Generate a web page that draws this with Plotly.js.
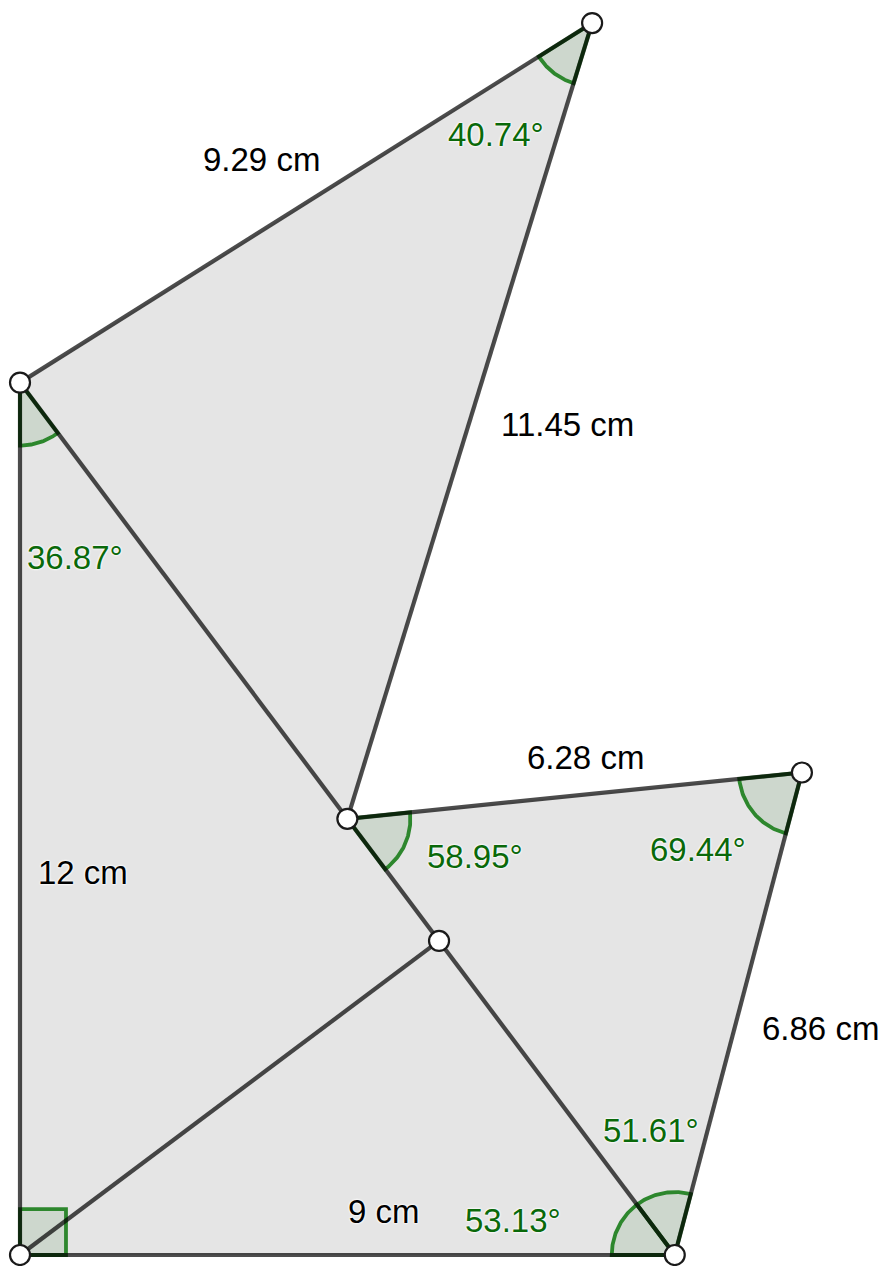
<!DOCTYPE html>
<html><head><meta charset="utf-8">
<script src="https://cdn.plot.ly/plotly-3.0.1.min.js"></script>
<style>html,body{margin:0;padding:0;background:#fff}#c{width:882px;height:1266px}</style>
</head><body><div id="c"></div>
<script>
// Points (cm): A, B, C, D, E, F, G
const pointNames = ['A','B','C','D','E','F','G'];
const pointX = [0, 9, 0, 7.864, 4.5, 10.748, 5.76];
const pointY = [0, 0, 12, 16.946, 6, 6.637, 4.32];

// Filled triangles (by point name)
const polygons = [['A','B','C'], ['C','D','E'], ['E','F','B']];
// Segments
const segments = [['A','B'],['A','C'],['C','B'],['A','G'],['C','D'],['D','E'],['E','F'],['F','B']];

// Length labels
const lengthTexts = ['9.29 cm','11.45 cm','12 cm','6.28 cm','6.86 cm','9 cm'];
const lengthPosX = [3.313, 7.519, 0.866, 7.780, 11.010, 5.003];
const lengthPosY = [15.062, 11.417, 5.268, 6.850, 3.122, 0.605];

// Angle markers: [vertex, ray1, ray2]
const angleVertex = ['D','C','E','F','B','B'];
const angleRay1   = ['C','A','F','B','F','E'];
const angleRay2   = ['E','B','B','E','E','A'];
const angleTexts  = ['40.74°','36.87°','58.95°','69.44°','51.61°','53.13°'];
const anglePosX = [6.543, 0.756, 6.254, 9.320, 8.674, 6.777];
const anglePosY = [15.406, 9.601, 5.475, 5.571, 1.706, 0.481];

const P = n => { const i = pointNames.indexOf(n); return [pointX[i], pointY[i]]; };
const R = 0.866;      // sector radius (cm)
const SQ = 0.632;     // right-angle square size (cm)

const traces = [];
// polygons fill
polygons.forEach(poly => {
  const xs = poly.map(n => P(n)[0]); const ys = poly.map(n => P(n)[1]);
  xs.push(xs[0]); ys.push(ys[0]);
  traces.push({x: xs, y: ys, type: 'scatter', mode: 'lines', fill: 'toself',
    fillcolor: 'rgb(229,229,229)', line: {width: 0, color: 'rgba(0,0,0,0)'}, hoverinfo: 'skip'});
});

// sectors
angleVertex.forEach((v, k) => {
  const V = P(v), A1 = P(angleRay1[k]), A2 = P(angleRay2[k]);
  let t1 = Math.atan2(A1[1]-V[1], A1[0]-V[0]);
  let t2 = Math.atan2(A2[1]-V[1], A2[0]-V[0]);
  let d = t2 - t1;
  while (d > Math.PI) d -= 2*Math.PI;
  while (d < -Math.PI) d += 2*Math.PI;
  const ax = [], ay = [];
  const N = 60;
  for (let i = 0; i <= N; i++) {
    const t = t1 + d*i/N;
    ax.push(V[0] + R*Math.cos(t)); ay.push(V[1] + R*Math.sin(t));
  }
  traces.push({x: [V[0]].concat(ax, [V[0]]), y: [V[1]].concat(ay, [V[1]]), type: 'scatter', mode: 'lines',
    fill: 'toself', fillcolor: 'rgba(0,100,0,0.1)', line: {width: 3.8, color: 'rgb(45,135,45)'}, hoverinfo: 'skip'});
});
// right angle square at A
{
  const V = P('A');
  traces.push({x: [V[0], V[0]+SQ, V[0]+SQ, V[0], V[0]], y: [V[1], V[1], V[1]+SQ, V[1]+SQ, V[1]],
    type: 'scatter', mode: 'lines', fill: 'toself', fillcolor: 'rgba(0,100,0,0.1)',
    line: {width: 3.8, color: 'rgb(45,135,45)'}, hoverinfo: 'skip'});
}

// segments
{
  const xs = [], ys = [];
  segments.forEach(s => { const a = P(s[0]), b = P(s[1]); xs.push(a[0], b[0], null); ys.push(a[1], b[1], null); });
  traces.push({x: xs, y: ys, type: 'scatter', mode: 'lines', connectgaps: false,
    line: {width: 4.2, color: 'rgba(0,0,0,0.7)'}, hoverinfo: 'skip'});
}

// vertices
traces.push({x: pointX, y: pointY, type: 'scatter', mode: 'markers',
  marker: {size: 20, color: '#ffffff', line: {width: 2.2, color: '#1a1a1a'}}, hoverinfo: 'skip'});

const halo = '0px 0px 2px #fff, 0px 0px 2px #fff, 0px 0px 3px #fff';
const annotations = [];
lengthTexts.forEach((t, i) => annotations.push({x: lengthPosX[i], y: lengthPosY[i], text: t, showarrow: false,
  xanchor: 'center', yanchor: 'middle', font: {family: 'Liberation Sans, Arial, sans-serif', size: 33, color: '#000', shadow: halo}}));
angleTexts.forEach((t, i) => annotations.push({x: anglePosX[i], y: anglePosY[i], text: t, showarrow: false,
  xanchor: 'center', yanchor: 'middle', font: {family: 'Liberation Sans, Arial, sans-serif', size: 33, color: 'rgb(10,105,10)', shadow: halo}}));

const sx = 72.75, sy = 72.7;
const layout = {
  width: 882, height: 1266, margin: {l: 0, r: 0, t: 0, b: 0},
  paper_bgcolor: '#fff', plot_bgcolor: '#fff', showlegend: false,
  xaxis: {range: [-20/sx, 862/sx], visible: false, showgrid: false, zeroline: false, fixedrange: true},
  yaxis: {range: [-11/sy, 1255/sy], visible: false, showgrid: false, zeroline: false, fixedrange: true},
  annotations: annotations
};
Plotly.newPlot('c', traces, layout, {staticPlot: true, displayModeBar: false});
</script></body></html>
